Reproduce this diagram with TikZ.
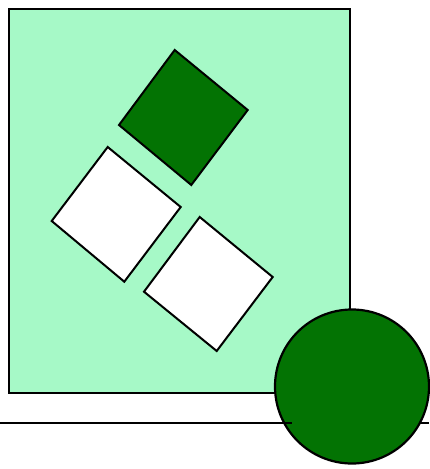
\documentclass[tikz,border=0pt]{standalone}
\usepackage{tikz}
\definecolor{mint}{HTML}{A6F9C7}
\definecolor{leaf}{HTML}{037303}
\tikzset{
  panel/.style={draw=black,fill=mint,line width=2pt},
  tile/.style={draw=black,fill=#1,line width=2pt,line join=miter},
  rule/.style={black,line width=2pt},
  disc/.style={draw=black,fill=leaf,line width=2.2pt},
}
\begin{document}
\begin{tikzpicture}[x=1pt,y=-1pt]
\useasboundingbox (0,0) rectangle (429,469);
% background panel and ground line
\draw[panel] (8.5,8.5) rectangle (350,392.5);
\draw[rule] (0,422.7) coordinate (gl) -- (429,422.7) coordinate (gr);
% three tilted tiles
\draw[tile=leaf] (174.7,50) -- (247.7,110) -- (191.3,185) -- (119,125) -- cycle;
\draw[tile=white] (107.7,147) -- (180.7,207) -- (124.3,281.7) -- (51.7,221) -- cycle;
\draw[tile=white] (199.7,217) -- (272.7,277) -- (216.7,351) -- (144,291.7) -- cycle;
% the ball
\draw[disc] (352,386.5) circle[radius=77];
\coordinate (stub) at (292,422.7);
\draw[rule] (gl) -- (stub);
\end{tikzpicture}
\end{document}
